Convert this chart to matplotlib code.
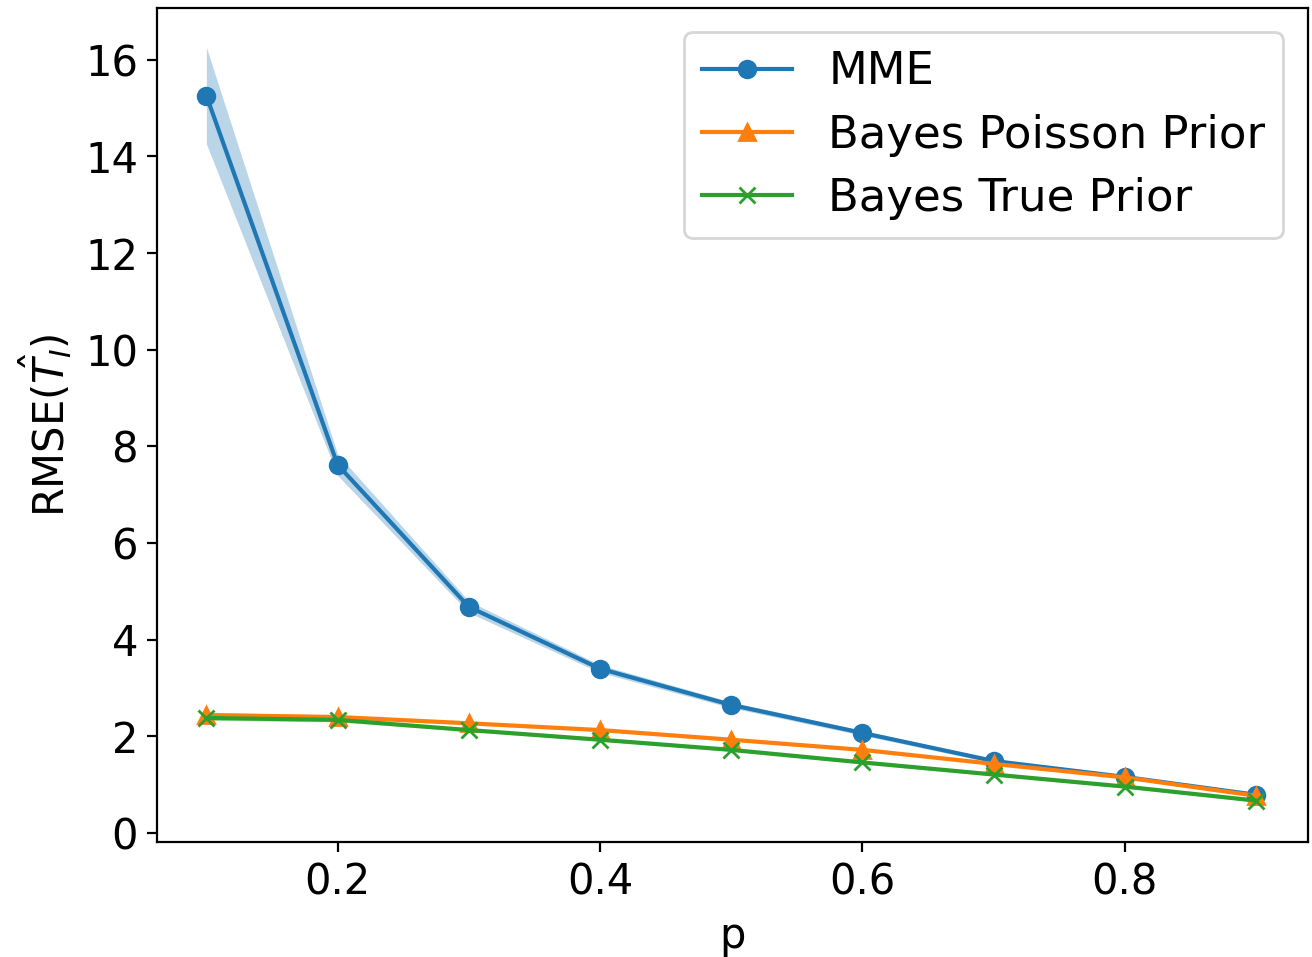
import numpy as np
import matplotlib.pyplot as plt

plt.rcParams['font.size'] = 15

p = [0.1, 0.2, 0.3, 0.4, 0.5, 0.6, 0.7, 0.8, 0.9]
mme = [15.26, 7.62, 4.68, 3.40, 2.65, 2.07, 1.49, 1.16, 0.79]
mme_err = [1.0, 0.22, 0.12, 0.08, 0.06, 0.05, 0.04, 0.03, 0.03]
bayes_poisson = [2.44, 2.40, 2.27, 2.13, 1.93, 1.72, 1.43, 1.15, 0.77]
poisson_err = [0.06, 0.04, 0.03, 0.03, 0.03, 0.03, 0.03, 0.03, 0.03]
bayes_true = [2.38, 2.34, 2.13, 1.93, 1.72, 1.46, 1.21, 0.96, 0.67]
true_err = [0.05, 0.04, 0.03, 0.03, 0.03, 0.03, 0.03, 0.03, 0.03]

fig = plt.figure(figsize=(6.56, 4.785), dpi=200)
ax = fig.add_axes([0.120, 0.120, 0.877, 0.872])

series = [
    (mme, mme_err, 'o', 'MME', 'C0'),
    (bayes_poisson, poisson_err, '^', 'Bayes Poisson Prior', 'C1'),
    (bayes_true, true_err, 'x', 'Bayes True Prior', 'C2'),
]
for vals, err, mk, lab, col in series:
    vals = np.array(vals)
    err = np.array(err)
    ax.plot(p, vals, marker=mk, color=col, label=lab, markersize=6)
    ax.fill_between(p, vals - err, vals + err, color=col, alpha=0.3, linewidth=0)

ax.set_xlim(0.0627, 0.9396)
ax.set_ylim(-0.19, 17.08)
ax.set_yticks([0, 2, 4, 6, 8, 10, 12, 14, 16])
ax.set_xticks([0.2, 0.4, 0.6, 0.8])
ax.set_xlabel('p')
ax.set_ylabel(r'RMSE($\hat{T_I}$)')
ax.legend(loc='upper right', fontsize=16.2, labelspacing=0.45, borderaxespad=0.55)

fig.savefig('out.png')
